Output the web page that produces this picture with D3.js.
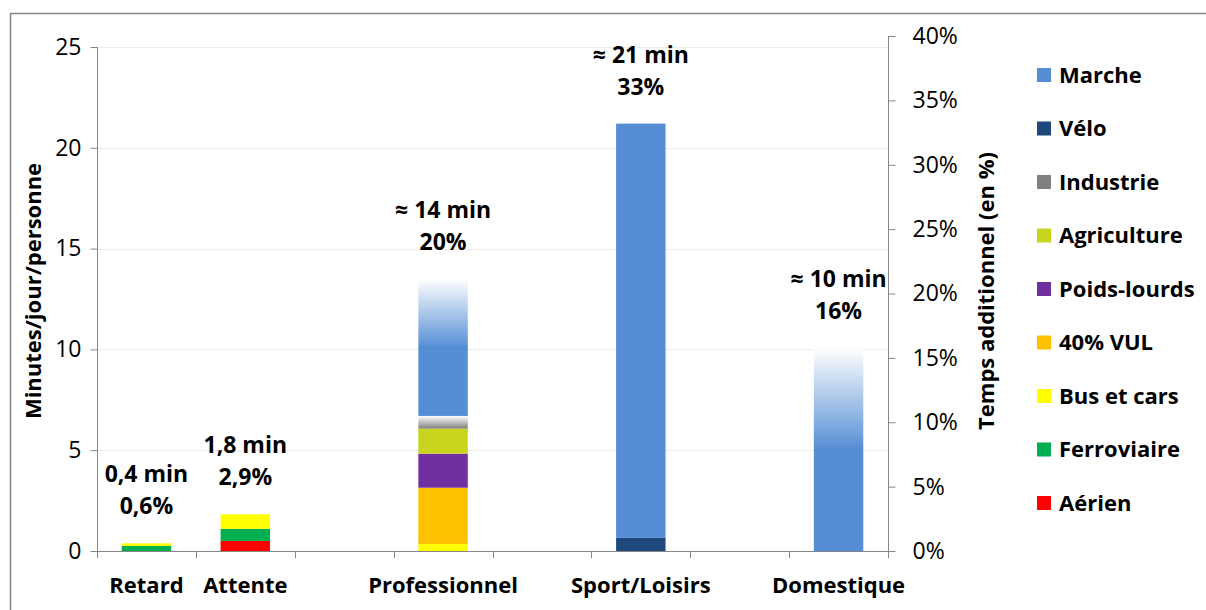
<!DOCTYPE html>
<html>
<head>
<meta charset="utf-8">
<script src="https://cdn.jsdelivr.net/npm/d3@7"></script>
<style>
  body { margin: 0; background: #fff; }
  svg { display: block; font-family: 'Open Sans', sans-serif; }
</style>
</head>
<body>
<div id="chart"></div>
<script>
// Categories (blank slots are spacer columns)
const categories = ['Retard', 'Attente', '', 'Professionnel', '', 'Sport/Loisirs', '', 'Domestique'];

// Minutes/jour/personne per mode, one value per category
const aerien      = [0,    0.5,  0, 0,    0, 0,     0, 0];
const ferroviaire = [0.25, 0.6,  0, 0,    0, 0,     0, 0];
const busCars     = [0.13, 0.72, 0, 0.35, 0, 0,     0, 0];
const vul40       = [0,    0,    0, 2.79, 0, 0,     0, 0];
const poidsLourds = [0,    0,    0, 1.69, 0, 0,     0, 0];
const agriculture = [0,    0,    0, 1.24, 0, 0,     0, 0];
const industrie   = [0,    0,    0, 0.63, 0, 0,     0, 0];
const velo        = [0,    0,    0, 0,    0, 0.65,  0, 0];
const marche      = [0,    0,    0, 6.8,  0, 20.55, 0, 10.05];

// Segments drawn with a fade to white (uncertain estimates)
const marcheFade = [false, false, false, true, false, false, false, true];

// Annotations above bars
const minLabels = ['0,4 min', '1,8 min', '', '\u2248 14 min', '', '\u2248 21 min', '', '\u2248 10 min'];
const pctLabels = ['0,6%', '2,9%', '', '20%', '', '33%', '', '16%'];

// Axis ticks
const leftTicks = [0, 5, 10, 15, 20, 25];
const rightTicks = [0, 0.05, 0.10, 0.15, 0.20, 0.25, 0.30, 0.35, 0.40];

// Series, bottom to top
const series = [
  { key: 'Aérien',       values: aerien,      color: '#ff0000' },
  { key: 'Ferroviaire',  values: ferroviaire, color: '#00b050' },
  { key: 'Bus et cars',  values: busCars,     color: '#ffff00' },
  { key: '40% VUL',      values: vul40,       color: '#ffc000' },
  { key: 'Poids-lourds', values: poidsLourds, color: '#7030a0' },
  { key: 'Agriculture',  values: agriculture, color: '#c9d41f' },
  { key: 'Industrie',    values: industrie,   color: '#808080' },
  { key: 'Vélo',         values: velo,        color: '#1f497d' },
  { key: 'Marche',       values: marche,      color: '#558ed5' }
];

const W = 1206, H = 610;
const plot = { left: 97, right: 888, top: 47, bottom: 551 };
const AXIS = '#868686';

const svg = d3.select('#chart').append('svg')
  .attr('width', W).attr('height', H);

// Gradients
const defs = svg.append('defs');
const gMarche = defs.append('linearGradient').attr('id', 'fadeMarche')
  .attr('x1', 0).attr('y1', 0).attr('x2', 0).attr('y2', 1);
gMarche.append('stop').attr('offset', '0%').attr('stop-color', '#ffffff');
gMarche.append('stop').attr('offset', '50%').attr('stop-color', '#558ed5');
gMarche.append('stop').attr('offset', '100%').attr('stop-color', '#558ed5');
const gInd = defs.append('linearGradient').attr('id', 'fadeIndustrie')
  .attr('x1', 0).attr('y1', 0).attr('x2', 0).attr('y2', 1);
gInd.append('stop').attr('offset', '0%').attr('stop-color', '#ffffff');
gInd.append('stop').attr('offset', '100%').attr('stop-color', '#808080');

// Outer frame (top and left edges visible)
svg.append('path')
  .attr('d', 'M10.5,' + H + ' V13.5 H' + W)
  .attr('fill', 'none').attr('stroke', AXIS).attr('stroke-width', 1.5);

const idx = d3.range(categories.length);
const x = d3.scaleBand().domain(idx).range([plot.left, plot.right])
  .paddingInner(0.5).paddingOuter(0.25);
const y = d3.scaleLinear().domain([0, 25]).range([plot.bottom, plot.top]);
const yR = d3.scaleLinear().domain([0, 0.4]).range([plot.bottom, 36]);

// Gridlines
svg.append('g').selectAll('line')
  .data(leftTicks.filter(function (t) { return t > 0; }))
  .join('line')
  .attr('x1', plot.left).attr('x2', plot.right)
  .attr('y1', function (d) { return Math.round(y(d)) + 0.5; })
  .attr('y2', function (d) { return Math.round(y(d)) + 0.5; })
  .attr('stroke', '#ececec').attr('stroke-width', 1);

// Stacked bars
const table = idx.map(function (i) {
  const row = { i: i };
  series.forEach(function (s) { row[s.key] = s.values[i]; });
  return row;
});
const stacked = d3.stack().keys(series.map(function (s) { return s.key; }))(table);

stacked.forEach(function (layer, li) {
  const s = series[li];
  svg.append('g').selectAll('rect')
    .data(layer.filter(function (d) { return d[1] - d[0] > 0; }))
    .join('rect')
    .attr('x', function (d) { return x(d.data.i); })
    .attr('width', x.bandwidth())
    .attr('y', function (d) { return y(d[1]); })
    .attr('height', function (d) { return y(d[0]) - y(d[1]); })
    .attr('fill', function (d) {
      if (s.key === 'Marche' && marcheFade[d.data.i]) return 'url(#fadeMarche)';
      if (s.key === 'Industrie') return 'url(#fadeIndustrie)';
      return s.color;
    });
});

// Totals for annotations
const totals = idx.map(function (i) {
  return d3.sum(series, function (s) { return s.values[i]; });
});

const ann = svg.append('g')
  .attr('font-weight', 'bold').attr('font-size', 23).attr('fill', '#000')
  .attr('text-anchor', 'middle');
idx.filter(function (i) { return minLabels[i]; }).forEach(function (i) {
  const cx = x(i) + x.bandwidth() / 2;
  const top = y(totals[i]);
  ann.append('text').attr('x', cx).attr('y', top - 69).attr('dy', '0.35em').text(minLabels[i]);
  ann.append('text').attr('x', cx).attr('y', top - 37).attr('dy', '0.35em').text(pctLabels[i]);
});

// Left axis
const axL = svg.append('g').attr('transform', 'translate(' + (plot.left + 0.5) + ',0)')
  .call(d3.axisLeft(y).tickValues(leftTicks).tickSize(7).tickPadding(9));
axL.select('.domain').attr('stroke', AXIS).attr('d', 'M0,' + plot.top + 'V' + plot.bottom);
axL.selectAll('.tick line').attr('stroke', AXIS);
axL.selectAll('.tick text').attr('font-size', 23).attr('fill', '#000')
  .attr('font-family', 'Open Sans, sans-serif');

// Right axis
const axR = svg.append('g').attr('transform', 'translate(' + (plot.right + 0.5) + ',0)')
  .call(d3.axisRight(yR).tickValues(rightTicks).tickSize(7).tickPadding(17)
    .tickFormat(d3.format('.0%')));
axR.select('.domain').attr('stroke', AXIS).attr('d', 'M0,36V' + plot.bottom);
axR.selectAll('.tick line').attr('stroke', AXIS);
axR.selectAll('.tick text').attr('font-size', 23).attr('fill', '#000')
  .attr('font-family', 'Open Sans, sans-serif');

// Bottom axis: ticks at band boundaries
const step = x.step();
const bounds = d3.range(categories.length + 1).map(function (k) {
  return plot.left + k * step;
});
const axB = svg.append('g');
axB.append('line')
  .attr('x1', plot.left).attr('x2', plot.right)
  .attr('y1', plot.bottom + 0.5).attr('y2', plot.bottom + 0.5)
  .attr('stroke', AXIS);
axB.selectAll('line.tk').data(bounds).join('line').attr('class', 'tk')
  .attr('x1', function (d) { return Math.round(d) + 0.5; })
  .attr('x2', function (d) { return Math.round(d) + 0.5; })
  .attr('y1', plot.bottom).attr('y2', plot.bottom + 7)
  .attr('stroke', AXIS);
axB.selectAll('text').data(idx.filter(function (i) { return categories[i]; })).join('text')
  .attr('x', function (i) { return x(i) + x.bandwidth() / 2; })
  .attr('y', 585).attr('dy', '0.35em')
  .attr('text-anchor', 'middle').attr('font-weight', 'bold').attr('font-size', 22)
  .text(function (i) { return categories[i]; });

// Axis titles
svg.append('text')
  .attr('transform', 'translate(33,291) rotate(-90)')
  .attr('text-anchor', 'middle').attr('dy', '0.35em')
  .attr('font-weight', 'bold').attr('font-size', 22)
  .text('Minutes/jour/personne');
svg.append('text')
  .attr('transform', 'translate(986,291) rotate(-90)')
  .attr('text-anchor', 'middle').attr('dy', '0.35em')
  .attr('font-weight', 'bold').attr('font-size', 22)
  .text('Temps additionnel (en %)');

// Legend, top to bottom
const legend = svg.append('g').attr('transform', 'translate(1037,75)');
const legItems = series.slice().reverse();
const row = legend.selectAll('g').data(legItems).join('g')
  .attr('transform', function (d, k) { return 'translate(0,' + (k * 53.5) + ')'; });
row.append('rect').attr('x', 0).attr('y', -7).attr('width', 14).attr('height', 14)
  .attr('fill', function (d) { return d.color; });
row.append('text').attr('x', 22).attr('dy', '0.35em')
  .attr('font-weight', 'bold').attr('font-size', 22)
  .text(function (d) { return d.key; });
</script>
</body>
</html>
